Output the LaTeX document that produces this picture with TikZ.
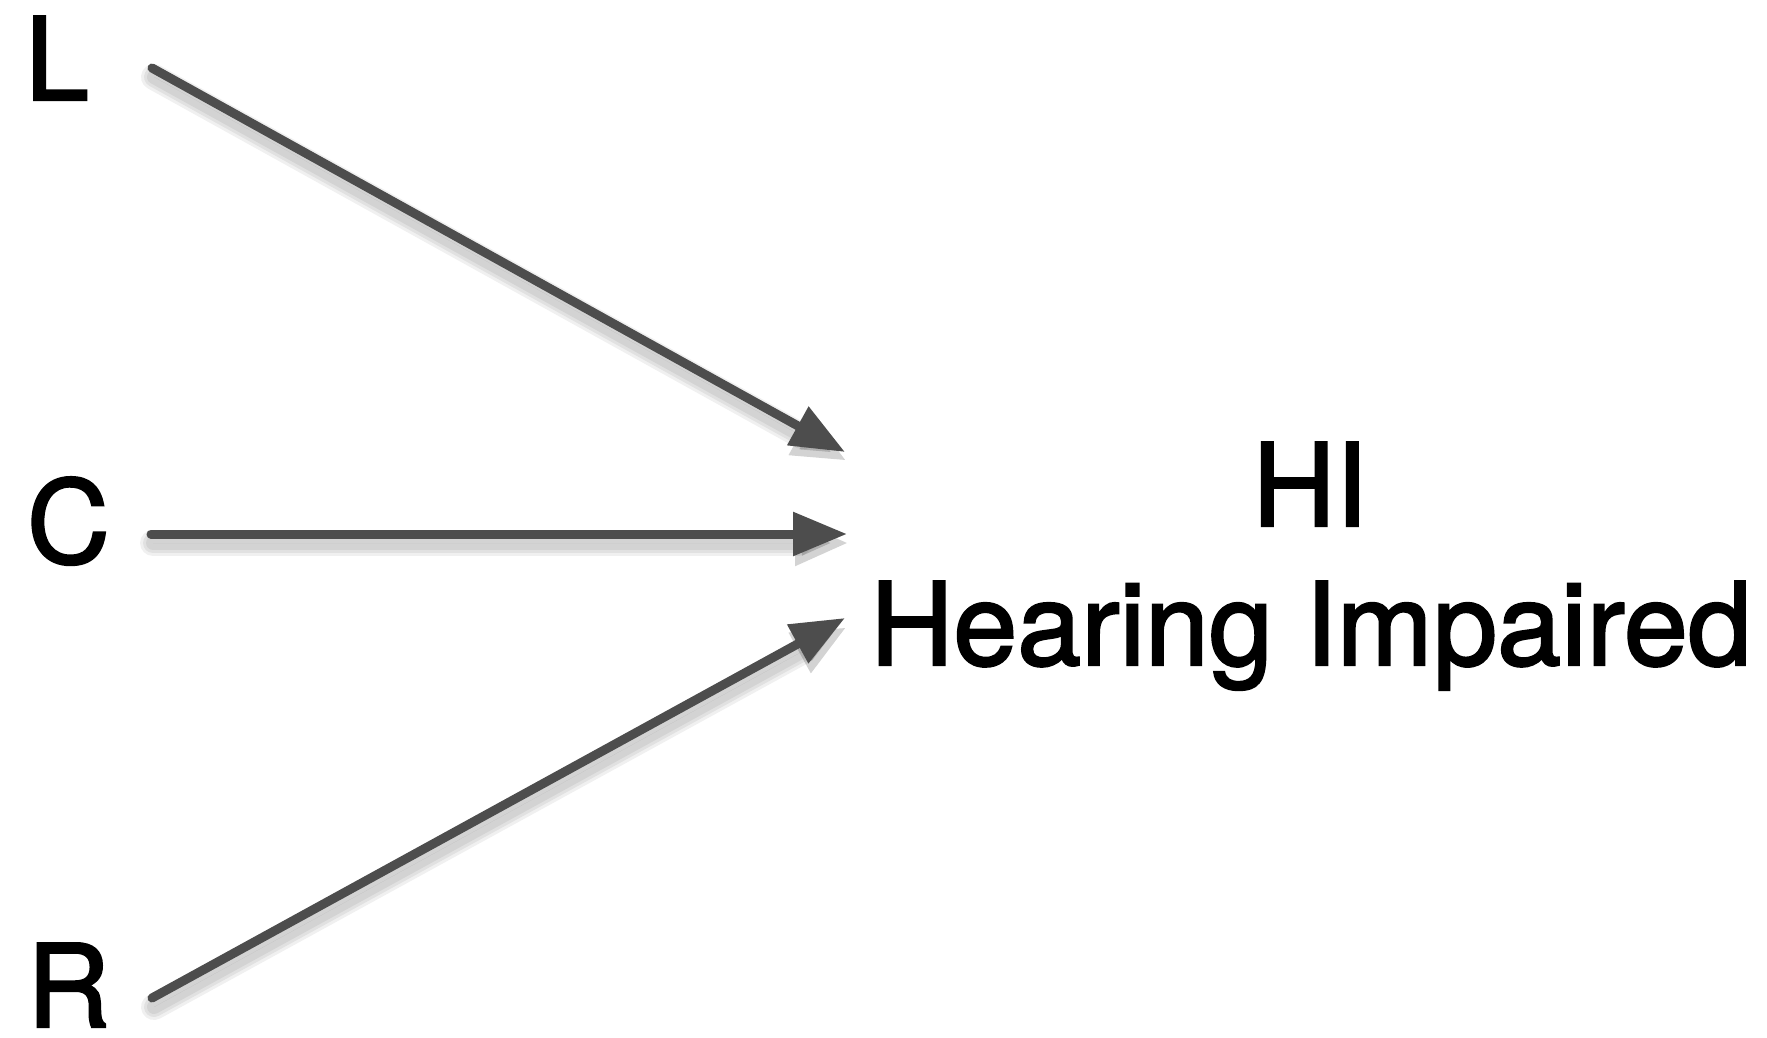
\documentclass[tikz,border=0pt]{standalone}
\usepackage{fontspec}
\setmainfont{TeX Gyre Heros}
\newfontface\heavyface{TeX Gyre Heros}[FakeBold=2]
\usetikzlibrary{arrows.meta}
\definecolor{arrowgray}{HTML}{4D4D4D}
\tikzset{
  lbl/.style={inner sep=0pt, outer sep=0pt, font=\heavyface\fontsize{115}{139}\selectfont, text=black},
  conn/.style={draw=arrowgray, line width=9pt, line cap=round,
    -{Triangle[length=54pt,width=42pt]}, fill=none},
  connshadow/.style={draw=black, line cap=round, draw opacity=0.06,
    -{Triangle[length=54pt,width=42pt]}},
}
\begin{document}
\begin{tikzpicture}[x=1pt,y=-1pt]
  \useasboundingbox[fill=white] (0,0) rectangle (1767,1037);
  % source labels
  \node[lbl, anchor=base west] (L) at (25,100) {L};
  \node[lbl, anchor=base west] (C) at (27,563) {C};
  \node[lbl, anchor=base west] (R) at (27,1027) {R};
  % target labels
  \node[lbl, anchor=base] (HI) at (1310,526) {HI};
  \node[lbl, anchor=base] (HIname) at (1311,665) {Hearing Impaired};
  % connector ends
  \coordinate (Ls) at (152,68);
  \coordinate (Cs) at (151,534);
  \coordinate (Rs) at (152,998);
  \coordinate (Le) at (845,452);
  \coordinate (Ce) at (847,534);
  \coordinate (Re) at (845,618);
  % soft shadows
  \foreach \w in {26,20,14} {
    \draw[connshadow, line width=\w pt, fill opacity=0.06, fill=black, transform canvas={shift={(2pt,-9pt)}}] (Ls) -- (Le);
    \draw[connshadow, line width=\w pt, fill opacity=0.06, fill=black, transform canvas={shift={(2pt,-9pt)}}] (Cs) -- (Ce);
    \draw[connshadow, line width=\w pt, fill opacity=0.06, fill=black, transform canvas={shift={(2pt,-9pt)}}] (Rs) -- (Re);
  }
  % connectors
  \draw[conn] (Ls) -- (Le);
  \draw[conn] (Cs) -- (Ce);
  \draw[conn] (Rs) -- (Re);
\end{tikzpicture}
\end{document}
